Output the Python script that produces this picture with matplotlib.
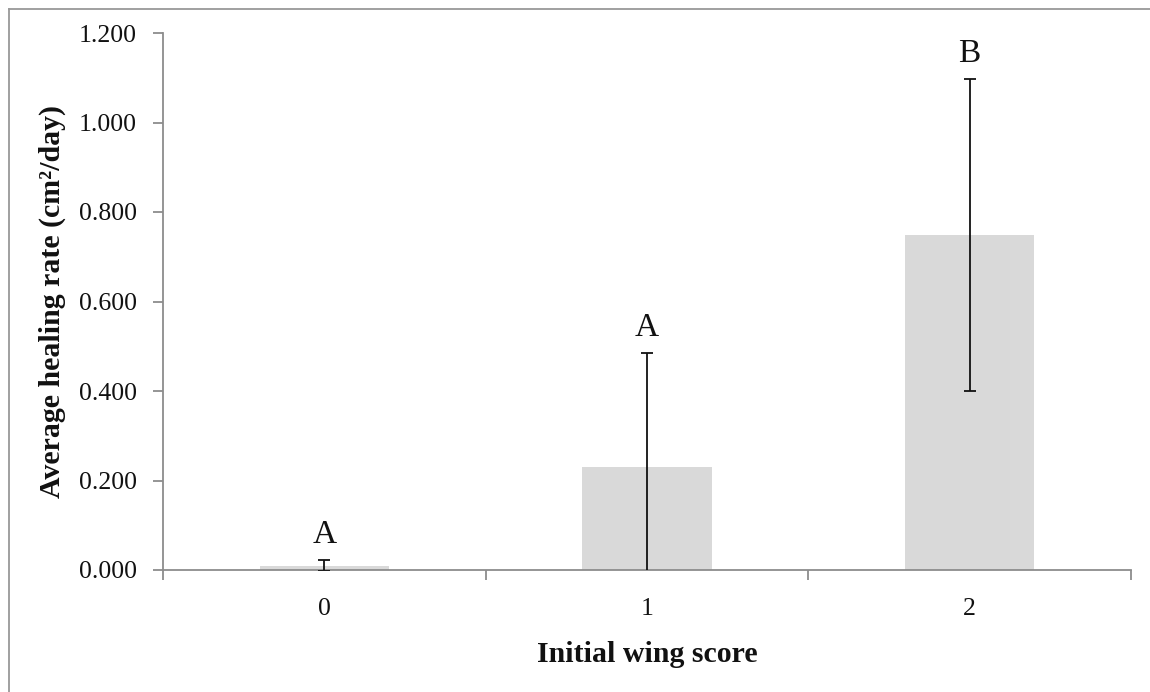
import matplotlib
matplotlib.use("Agg")
import matplotlib.pyplot as plt
from matplotlib.lines import Line2D

categories = ["0", "1", "2"]
means = [0.010, 0.231, 0.749]
errors = [0.012, 0.254, 0.348]
letters = ["A", "A", "B"]

plt.rcParams['font.family'] = ['Liberation Serif', 'DejaVu Serif']

W, H = 1150, 692
fig = plt.figure(figsize=(W/100, H/100), dpi=100)
ax = fig.add_axes([163/W, 1-570/H, (1131-163)/W, (570-33)/H])

x = list(range(len(categories)))
ax.bar(x, means, width=0.4, color='#d9d9d9', edgecolor='none', zorder=2)
ax.errorbar(x, means, yerr=errors, fmt='none', ecolor='#111111', elinewidth=1.3,
            capsize=4.5, capthick=1.3, zorder=3)
for xi, m, e, l in zip(x, means, errors, letters):
    ax.text(xi, m + e + 0.038, l, ha='center', va='baseline', fontsize=24, color='#111111')

ticks = [0, 0.2, 0.4, 0.6, 0.8, 1.0, 1.2]
ax.set_xlim(-0.5, 2.5)
ax.set_ylim(0, 1.2)
ax.set_yticks(ticks)
ax.set_yticklabels([f"{v:.3f}" for v in ticks])
ax.set_xticks([-0.5, 0.5, 1.5, 2.5])
ax.set_xticklabels([])
ax.set_xticks(x, minor=True)
ax.set_xticklabels(categories, minor=True)
ax.tick_params(axis='x', which='minor', length=0, labelsize=18.5, pad=20, colors='#111111')
ax.tick_params(axis='x', which='major', length=7, width=1.3, color='#8c8c8c', direction='out')
ax.tick_params(axis='y', length=7, width=1.3, color='#8c8c8c', labelsize=18.5, pad=12,
               labelcolor='#111111')

for s in ['top', 'right']:
    ax.spines[s].set_visible(False)
for s in ['left', 'bottom']:
    ax.spines[s].set_color('#8c8c8c')
    ax.spines[s].set_linewidth(1.3)

ax.set_ylabel("Average healing rate (cm²/day)", fontsize=21.5, fontweight='bold',
              color='#111111')
ax.set_xlabel("Initial wing score", fontsize=21.5, fontweight='bold', color='#111111')
ax.xaxis.set_label_coords(0.5, -(655-570)/(570-33))
ax.xaxis.label.set_va('center')
ax.yaxis.label.set_va('center')
ax.yaxis.set_label_coords(-(163-52)/(1131-163), 0.5)

fig.add_artist(Line2D([8.5/W, 8.5/W], [0, 1-8.5/H], transform=fig.transFigure,
                      color='#999999', linewidth=1.3))
fig.add_artist(Line2D([8.5/W, 1], [1-8.5/H, 1-8.5/H], transform=fig.transFigure,
                      color='#999999', linewidth=1.3))

fig.savefig("out.png", dpi=100)
